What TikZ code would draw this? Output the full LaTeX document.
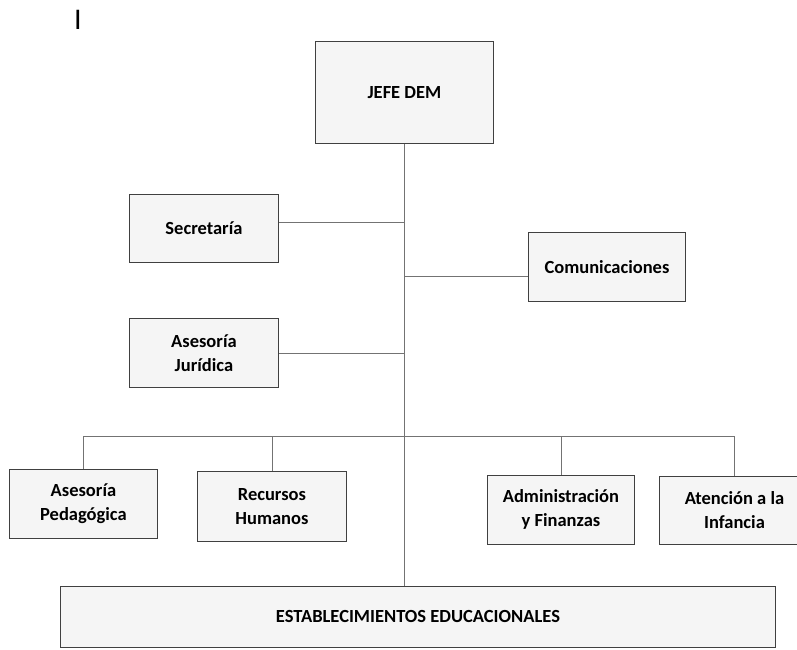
\documentclass[tikz,border=0pt]{standalone}
\usepackage{fontspec}
\setmainfont{Carlito}
\begin{document}
\begin{tikzpicture}[x=1pt,y=-1pt,anchor=north west,
  caja/.style={draw=black!75,line width=0.9pt,fill=black!4,align=center,inner sep=2pt,
    font=\bfseries\fontsize{18.5}{24}\selectfont},
  linea/.style={draw=black!55,line width=0.7pt}]
\useasboundingbox (0,0) rectangle (797,649);
\node[anchor=center,font=\fontsize{30}{30}\selectfont] (cursor) at (78,20) {I};
\node[caja,minimum width=178pt,minimum height=102pt] (jefe) at (315,41) {JEFE DEM};
\node[caja,minimum width=149pt,minimum height=68pt] (secr) at (129,194) {Secretaría};
\node[caja,minimum width=157pt,minimum height=69pt] (comu) at (528,232) {Comunicaciones};
\node[caja,minimum width=149pt,minimum height=69pt] (jur) at (129,318) {Asesoría\\Jurídica};
\node[caja,minimum width=148pt,minimum height=69pt] (ped) at (9,469) {Asesoría\\Pedagógica};
\node[caja,minimum width=149pt,minimum height=70pt] (rh) at (197,471) {Recursos\\Humanos};
\node[caja,minimum width=147pt,minimum height=69pt] (adm) at (487,475) {Administración\\y Finanzas};
\node[caja,minimum width=150pt,minimum height=68pt] (inf) at (659,476) {Atención a la\\Infancia};
\node[caja,minimum width=715pt,minimum height=61pt] (est) at (60,586) {ESTABLECIMIENTOS EDUCACIONALES};
\coordinate (bus) at (404,436);
% tronco
\draw[linea] (jefe.south) -- (jefe.south |- est.north);
\draw[linea] ([yshift=6pt]secr.east) -- ([yshift=6pt]secr.east -| jefe.south);
\draw[linea] ([yshift=-9pt]comu.west) -- ([yshift=-9pt]comu.west -| jefe.south);
\draw[linea] (jur.east) -- (jur.east -| jefe.south);
% departamentos
\draw[linea] (ped.north) |- (bus) -| (inf.north);
\draw[linea] (rh.north) -- (rh.north |- bus);
\draw[linea] (adm.north) -- (adm.north |- bus);
\end{tikzpicture}
\end{document}
